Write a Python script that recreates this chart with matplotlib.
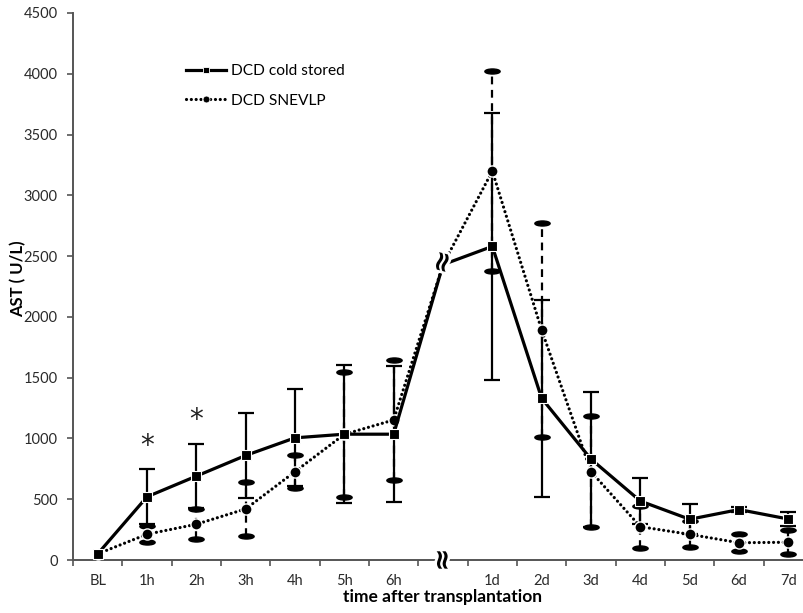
import numpy as np
import matplotlib
matplotlib.use('Agg')
import matplotlib.pyplot as plt
from matplotlib.lines import Line2D
from matplotlib.path import Path
from matplotlib.transforms import Affine2D
import matplotlib.patheffects as pe

plt.rcParams['font.family'] = ['Lato', 'DejaVu Sans']

# Categories (index 7 is the axis break between 6h and 1d)
labels = ['BL', '1h', '2h', '3h', '4h', '5h', '6h', '', '1d', '2d', '3d', '4d', '5d', '6d', '7d']
gap_idx = 7

# DCD cold stored: mean and SD (U/L)
cold_mean = [50, 520, 690, 860, 1005, 1035, 1035, 2430, 2580, 1330, 830, 485, 335, 415, 337]
cold_sd = [np.nan, 225, 262, 350, 400, 568, 560, np.nan, 1100, 810, 555, 187, 123, 20, 60]

# DCD SNEVLP: mean and SD (U/L)
snev_mean = [50, 212, 294, 420, 727, 1034, 1152, 2430, 3200, 1892, 727, 274, 211, 142, 146]
snev_sd = [np.nan, 66, 124, 223, 136, 513, 490, np.nan, 820, 880, 458, 173, 107, 70, 99]

# significance markers
sig_labels = ['1h', '2h']
sig_y = [935, 1150]

x = np.arange(len(labels))
cold_mean = np.array(cold_mean, float)
cold_sd = np.array(cold_sd, float)
snev_mean = np.array(snev_mean, float)
snev_sd = np.array(snev_sd, float)

fig = plt.figure(figsize=(8.04, 6.13), dpi=100)
ax = fig.add_axes([73 / 804, 53 / 613, 740 / 804, 547 / 613])

# oval cap marker for SNEVLP error bars
oval = Path.unit_circle().transformed(Affine2D().scale(1.0, 0.33))

pts = [i for i in x if i != gap_idx]

# SNEVLP error bars (dashed, oval caps)
ok = ~np.isnan(snev_sd)
eb = ax.errorbar(x[ok], snev_mean[ok], yerr=snev_sd[ok], fmt='none', ecolor='black',
                 elinewidth=1.6, capsize=0, zorder=2)
eb[2][0].set_linestyle((0, (3.5, 2.5)))
ax.plot(x[ok], snev_mean[ok] + snev_sd[ok], ls='none', marker=oval, ms=11,
        color='black', zorder=2)
ax.plot(x[ok], snev_mean[ok] - snev_sd[ok], ls='none', marker=oval, ms=11,
        color='black', zorder=2)

# cold stored error bars (solid, flat caps)
ok = ~np.isnan(cold_sd)
ax.errorbar(x[ok], cold_mean[ok], yerr=cold_sd[ok], fmt='none', ecolor='black',
            elinewidth=1.6, capsize=6, capthick=1.6, zorder=3)

# series lines
ax.plot(x, snev_mean, color='black', lw=2.3, ls=(0, (0.01, 1.5)),
        dash_capstyle='round', marker='o', ms=8, mfc='black', mec='white',
        mew=1.0, markevery=pts, zorder=4)
ax.plot(x, cold_mean, color='black', lw=2.3, ls='-', marker='s', ms=7,
        mfc='black', mec='white', mew=0.8, markevery=pts, zorder=5)

# significance asterisks
for lab, yv in zip(sig_labels, sig_y):
    ax.text(labels.index(lab), yv, '*', ha='center', va='center', fontsize=20,
            family=['DejaVu Sans'], color='#222222', zorder=6)

# break symbols on data line and x axis
brk = dict(ha='center', va='center', family=['DejaVu Sans'], fontweight='bold',
           color='black', zorder=7,
           path_effects=[pe.withStroke(linewidth=4, foreground='white')])
ax.text(gap_idx, cold_mean[gap_idx] + 20, '\u2248', fontsize=20, rotation=75, **brk)
ax.text(gap_idx, 0, '\u2248', fontsize=20, rotation=90, clip_on=False, **brk)

# axes styling
ax.set_xlim(-0.5, len(labels) - 0.5)
ax.set_ylim(0, 4500)
ax.set_yticks(np.arange(0, 4501, 500))
ax.set_xticks(np.arange(-0.5, len(labels), 1.0))
ax.set_xticklabels([])
ax.set_xticks(x, minor=True)
ax.set_xticklabels(labels, minor=True)
ax.tick_params(axis='x', which='major', length=4, width=1.2, color='#555555')
ax.tick_params(axis='x', which='minor', length=0, pad=10, labelsize=10.5,
               labelcolor='#2a2a2a')
ax.tick_params(axis='y', length=4, width=1.2, color='#555555', pad=7,
               labelsize=10.5, labelcolor='#2a2a2a')
for s in ['top', 'right']:
    ax.spines[s].set_visible(False)
for s in ['left', 'bottom']:
    ax.spines[s].set_color('#555555')
    ax.spines[s].set_linewidth(1.4)

ax.set_ylabel('AST ( U/L)', fontsize=12, fontweight='bold')
ax.yaxis.set_label_coords(-47 / 740, 0.515)
ax.set_xlabel('time after transplantation', fontsize=12.5, fontweight='bold',
              labelpad=1)

handles = [
    Line2D([], [], color='black', lw=2.3, marker='s', ms=5, mec='white', mew=0.6),
    Line2D([], [], color='black', lw=2.3, ls=(0, (0.01, 1.5)), dash_capstyle='round',
           marker='o', ms=5, mec='white', mew=0.6),
]
ax.legend(handles, ['DCD cold stored', 'DCD SNEVLP'], loc='upper left',
          bbox_to_anchor=(186 / 804, 1 - 64 / 613), bbox_transform=fig.transFigure,
          frameon=False, fontsize=11.2, handlelength=2.6, handletextpad=0.3,
          labelspacing=1.0, borderpad=0, borderaxespad=0)

fig.savefig('out.png', dpi=100, facecolor='white')
